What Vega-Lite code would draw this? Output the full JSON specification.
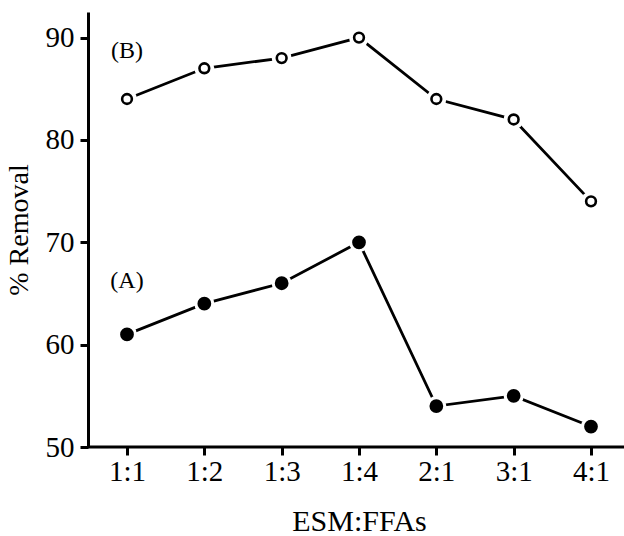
{
  "$schema": "https://vega.github.io/schema/vega-lite/v6.json",
  "width": 536,
  "height": 435,
  "autosize": "none",
  "padding": {"left": 88, "top": 12, "right": 0, "bottom": 89},
  "background": "white",
  "config": {
    "font": "Liberation Serif",
    "view": {"stroke": null}
  },
  "datasets": {
    "series": [
      {"ratio": "1:1", "removal": 61, "series": "A"},
      {"ratio": "1:2", "removal": 64, "series": "A"},
      {"ratio": "1:3", "removal": 66, "series": "A"},
      {"ratio": "1:4", "removal": 70, "series": "A"},
      {"ratio": "2:1", "removal": 54, "series": "A"},
      {"ratio": "3:1", "removal": 55, "series": "A"},
      {"ratio": "4:1", "removal": 52, "series": "A"},
      {"ratio": "1:1", "removal": 84, "series": "B"},
      {"ratio": "1:2", "removal": 87, "series": "B"},
      {"ratio": "1:3", "removal": 88, "series": "B"},
      {"ratio": "1:4", "removal": 90, "series": "B"},
      {"ratio": "2:1", "removal": 84, "series": "B"},
      {"ratio": "3:1", "removal": 82, "series": "B"},
      {"ratio": "4:1", "removal": 74, "series": "B"}
    ],
    "labels": [
      {"ratio": "1:1", "removal": 66.2, "label": "(A)"},
      {"ratio": "1:1", "removal": 88.7, "label": "(B)"}
    ],
    "base": [{"removal": 50}]
  },
  "layer": [
    {
      "data": {"name": "base"},
      "mark": {"type": "rule", "color": "black", "strokeWidth": 3},
      "encoding": {
        "y": {"field": "removal", "type": "quantitative"}
      }
    },
    {
      "data": {"name": "series"},
      "mark": {"type": "line", "color": "black", "strokeWidth": 2.8},
      "encoding": {
        "x": {
          "field": "ratio", "type": "ordinal",
          "sort": ["1:1", "1:2", "1:3", "1:4", "2:1", "3:1", "4:1"],
          "scale": {"type": "point", "range": [39, 503], "padding": 0},
          "axis": {
            "title": "ESM:FFAs", "labelAngle": 0, "domain": false,
            "labelFont": "Liberation Serif", "titleFont": "Liberation Serif",
            "labelFontSize": 29, "titleFontSize": 30, "titleFontWeight": "normal",
            "labelColor": "black", "titleColor": "black",
            "tickColor": "black", "tickWidth": 3, "tickSize": 8, "grid": false,
            "labelPadding": 2, "titlePadding": 20
          }
        },
        "y": {
          "field": "removal", "type": "quantitative",
          "scale": {"domain": [50, 92.5], "nice": false, "zero": false},
          "axis": {
            "title": "% Removal", "values": [50, 60, 70, 80, 90],
            "labelFont": "Liberation Serif", "titleFont": "Liberation Serif",
            "labelFontSize": 29, "titleFontSize": 28, "titleFontWeight": "normal",
            "labelColor": "black", "titleColor": "black",
            "domainColor": "black", "domainWidth": 3,
            "tickColor": "black", "tickWidth": 3, "tickSize": 8, "grid": false,
            "labelPadding": 6, "titlePadding": 12
          }
        },
        "detail": {"field": "series"}
      }
    },
    {
      "data": {"name": "series"},
      "mark": {"type": "point", "shape": "circle", "filled": true, "color": "white", "opacity": 1, "size": 400},
      "encoding": {
        "x": {"field": "ratio", "type": "ordinal", "sort": ["1:1", "1:2", "1:3", "1:4", "2:1", "3:1", "4:1"]},
        "y": {"field": "removal", "type": "quantitative"}
      }
    },
    {
      "data": {"name": "series"},
      "mark": {"type": "point", "shape": "circle", "stroke": "black", "strokeWidth": 2.6, "opacity": 1},
      "encoding": {
        "x": {"field": "ratio", "type": "ordinal", "sort": ["1:1", "1:2", "1:3", "1:4", "2:1", "3:1", "4:1"]},
        "y": {"field": "removal", "type": "quantitative"},
        "fill": {"field": "series", "type": "nominal", "scale": {"domain": ["A", "B"], "range": ["black", "white"]}, "legend": null},
        "size": {"field": "series", "type": "nominal", "scale": {"domain": ["A", "B"], "range": [125, 95]}, "legend": null}
      }
    },
    {
      "data": {"name": "labels"},
      "mark": {"type": "text", "font": "Liberation Serif", "fontSize": 24, "color": "black", "align": "center", "baseline": "middle"},
      "encoding": {
        "x": {"field": "ratio", "type": "ordinal", "sort": ["1:1", "1:2", "1:3", "1:4", "2:1", "3:1", "4:1"]},
        "y": {"field": "removal", "type": "quantitative"},
        "text": {"field": "label"}
      }
    }
  ]
}
